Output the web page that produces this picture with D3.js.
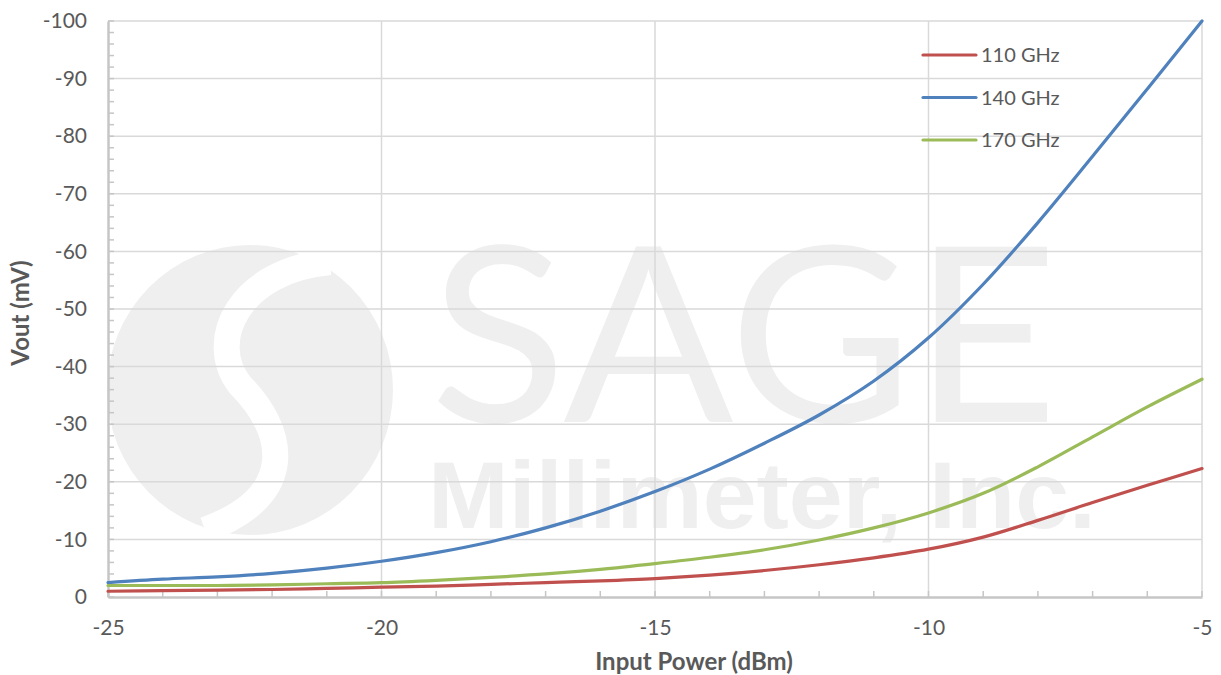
<!DOCTYPE html>
<html>
<head>
<meta charset="utf-8">
<script src="https://cdn.jsdelivr.net/npm/d3@7"></script>
<style>
  body { margin: 0; background: #fff; }
  text { font-family: Lato, "Open Sans", "Liberation Sans", sans-serif; }
</style>
</head>
<body>
<div id="chart"></div>
<script>
// input power sweep, dBm
var inputPower = [-25, -24, -23, -22, -21, -20, -19, -18, -17, -16, -15, -14, -13, -12, -11, -10, -9, -8, -7, -6, -5];
// detector output, mV
var vout110 = [-1.0, -1.1, -1.2, -1.3, -1.5, -1.7, -1.9, -2.2, -2.5, -2.8, -3.2, -3.8, -4.6, -5.6, -6.8, -8.3, -10.4, -13.3, -16.4, -19.4, -22.3];
var vout140 = [-2.5, -3.1, -3.5, -4.1, -5.0, -6.2, -7.7, -9.6, -12.0, -14.9, -18.3, -22.2, -26.7, -31.6, -37.5, -45.0, -54.3, -65.0, -76.5, -88.2, -100];
var vout170 = [-2.0, -2.0, -2.0, -2.1, -2.3, -2.5, -2.9, -3.4, -4.0, -4.8, -5.8, -6.9, -8.2, -9.9, -12.0, -14.6, -18.0, -22.6, -27.8, -33.0, -37.8];

var seriesNames = ["110 GHz", "140 GHz", "170 GHz"];
var seriesColors = ["#c0504d", "#4f81bd", "#9bbb59"];
var xTicks = [-25, -20, -15, -10, -5];
var yTicks = [0, -10, -20, -30, -40, -50, -60, -70, -80, -90, -100];

var WIDTH = 1221, HEIGHT = 675;
var LEFT = 108, RIGHT = 1202, TOP = 21, BOTTOM = 597;
var GRID = "#d9d9d9", AXIS = "#c6c6c6", LABEL = "#595959";

var svg = d3.select("#chart").append("svg")
  .attr("width", WIDTH)
  .attr("height", HEIGHT);

var x = d3.scaleLinear().domain([-25, -5]).range([LEFT, RIGHT]);
var y = d3.scaleLinear().domain([0, -100]).range([BOTTOM, TOP]);

// watermark (logo + company name), sits under the grid
var wm = svg.append("g").attr("fill", "#efefef");
wm.append("ellipse").attr("cx", 250).attr("cy", 390).attr("rx", 143).attr("ry", 145);
wm.append("path")
  .attr("d", "M330,262 C240,270 205,340 240,385 C285,430 300,495 205,530")
  .attr("fill", "none").attr("stroke", "#fff").attr("stroke-width", 26);
wm.append("text")
  .attr("x", 430).attr("y", 422)
  .attr("textLength", 628).attr("lengthAdjust", "spacingAndGlyphs")
  .style("font-family", "Lato, 'DejaVu Sans', sans-serif")
  .style("font-weight", "normal")
  .style("font-size", "245px")
  .text("SAGE");
wm.append("text")
  .attr("x", 428).attr("y", 528)
  .attr("textLength", 668).attr("lengthAdjust", "spacingAndGlyphs")
  .style("font-family", "'Liberation Sans Narrow', 'Liberation Sans', sans-serif")
  .style("font-weight", "bold")
  .style("font-size", "94px")
  .text("Millimeter, Inc.");

// gridlines
svg.append("g").selectAll("line.h")
  .data(yTicks.filter(d => d !== 0))
  .enter().append("line")
  .attr("x1", LEFT).attr("x2", RIGHT)
  .attr("y1", d => y(d)).attr("y2", d => y(d))
  .attr("stroke", GRID).attr("stroke-width", 1.5);
svg.append("g").selectAll("line.v")
  .data(xTicks.filter(d => d !== -25))
  .enter().append("line")
  .attr("x1", d => x(d)).attr("x2", d => x(d))
  .attr("y1", TOP).attr("y2", BOTTOM)
  .attr("stroke", GRID).attr("stroke-width", 1.5);

// axes
var yAxis = d3.axisLeft(y).tickValues(yTicks).tickSize(0).tickPadding(21).tickFormat(d => String(d));
var gy = svg.append("g").attr("transform", "translate(" + LEFT + ",0)").call(yAxis);
gy.select(".domain").attr("stroke", AXIS).attr("stroke-width", 2.5);
gy.selectAll("text").attr("fill", LABEL).style("font-size", "21px");

var xAxis = d3.axisBottom(x).tickValues(xTicks).tickSize(0).tickPadding(23).tickFormat(d => String(d));
var gx = svg.append("g").attr("transform", "translate(0," + BOTTOM + ")").call(xAxis);
gx.select(".domain").attr("stroke", AXIS).attr("stroke-width", 2.5);
gx.selectAll("text").attr("fill", LABEL).style("font-size", "21px");

// minor ticks, inside the plot
svg.append("g").selectAll("line")
  .data(d3.range(0, -101, -2))
  .enter().append("line")
  .attr("x1", LEFT).attr("x2", LEFT + 6)
  .attr("y1", d => y(d)).attr("y2", d => y(d))
  .attr("stroke", AXIS).attr("stroke-width", 1.5);
svg.append("g").selectAll("line")
  .data(d3.range(-25, -4, 1))
  .enter().append("line")
  .attr("x1", d => x(d)).attr("x2", d => x(d))
  .attr("y1", BOTTOM).attr("y2", BOTTOM - 6)
  .attr("stroke", AXIS).attr("stroke-width", 1.5);

// axis titles
svg.append("text")
  .attr("x", 694).attr("y", 670)
  .attr("text-anchor", "middle")
  .attr("fill", LABEL)
  .style("font-size", "24px").style("font-weight", "bold")
  .text("Input Power (dBm)");
svg.append("text")
  .attr("transform", "translate(29,313) rotate(-90)")
  .attr("text-anchor", "middle")
  .attr("fill", LABEL)
  .style("font-size", "24px").style("font-weight", "bold")
  .text("Vout (mV)");

// curves
var series = [vout110, vout140, vout170];
var line = d3.line()
  .x((d, i) => x(inputPower[i]))
  .y(d => y(d))
  .curve(d3.curveCatmullRom.alpha(0.5));

svg.append("g").selectAll("path")
  .data(series)
  .enter().append("path")
  .attr("d", d => line(d))
  .attr("fill", "none")
  .attr("stroke", (d, i) => seriesColors[i])
  .attr("stroke-width", 3.2)
  .attr("stroke-linecap", "round");

// legend
var legend = svg.append("g").selectAll("g")
  .data(seriesNames)
  .enter().append("g")
  .attr("transform", (d, i) => "translate(923," + (55 + i * 42.5) + ")");
legend.append("line")
  .attr("x1", 0).attr("x2", 53)
  .attr("stroke", (d, i) => seriesColors[i])
  .attr("stroke-width", 3.2)
  .attr("stroke-linecap", "round");
legend.append("text")
  .attr("x", 58).attr("y", 7)
  .attr("fill", LABEL)
  .style("font-size", "20px")
  .text(d => d);
</script>
</body>
</html>
